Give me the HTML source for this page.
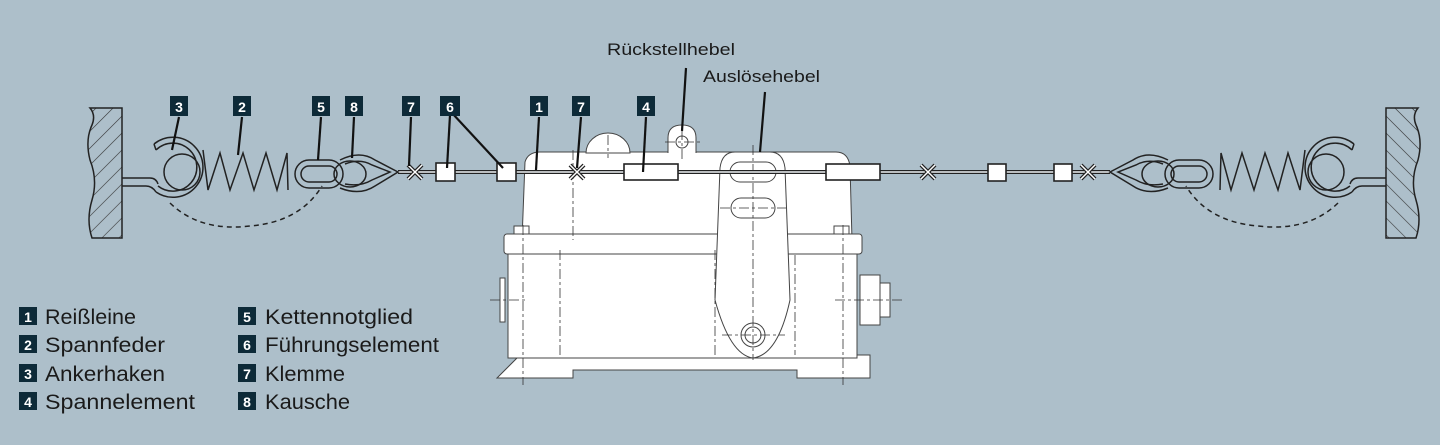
<!DOCTYPE html>
<html><head><meta charset="utf-8"><style>
html,body{margin:0;padding:0;background:#adbfca;}
svg{display:block}
.t{font-family:"Liberation Sans",sans-serif;fill:#1a1a1a}
.n{font-family:"Liberation Sans",sans-serif;font-weight:bold;fill:#fff;font-size:14px;text-anchor:middle}
</style></head><body>
<svg width="1440" height="445" viewBox="0 0 1440 445" xmlns="http://www.w3.org/2000/svg">
<defs>
<pattern id="h" width="12" height="12" patternUnits="userSpaceOnUse" patternTransform="rotate(-45)">
<rect width="12" height="12" fill="#adbfca"/><line x1="0" y1="0" x2="12" y2="0" stroke="#333" stroke-width="1.2"/></pattern>
<g id="assy" fill="none" stroke="#222" stroke-width="1.5">
<path d="M122,108 L122,238 L92,238 Q86,220 92,200 Q98,180 90,160 Q85,140 92,125 Q96,115 90,108 Z" fill="url(#h)"/>
<path d="M122,178 L150,178 Q156,178 158,184 M122,186 L146,186 Q152,186 156,192"/>
<path d="M156,150 A24,24 0 1 1 158,186 M154,144 A30,30 0 1 1 156,192 M154,144 L156,150"/>
<circle cx="182" cy="172" r="18"/>
<path d="M203,150 L208,190 L220,153 L230,190 L243,153 L254,190 L266,153 L277,190 L287,153 L288,190"/>
<rect x="295" y="160" width="48" height="28" rx="14"/>
<rect x="301" y="166" width="36" height="16" rx="8"/>
<ellipse cx="350" cy="174" rx="16" ry="13"/>
<path d="M340,160 Q360,150 375,160 L398,172 L375,186 Q360,196 340,188"/>
<path d="M345,164 Q360,158 372,165 L390,172 L372,180 Q360,187 345,184"/>
<path d="M170,203 Q200,232 250,226 Q300,222 322,186" stroke-dasharray="5,4"/>
</g>
</defs>
<rect width="1440" height="445" fill="#adbfca"/>

<!-- switch box -->
<g fill="#fff" stroke="#444" stroke-width="1">
<path d="M520,355 L870,355 L870,378 L797,378 L797,370 L573,370 L573,378 L497,378 Z"/>
<path d="M508,240 L857,240 L857,358 L508,358 Z"/>
<path d="M525,162 Q528,152 540,152 L836,152 Q848,152 850,166 L852,240 L522,240 Z"/>
<rect x="504" y="234" width="358" height="20" rx="3"/>
<path d="M586,153 A22,20 0 0 1 630,153 Z"/>
<path d="M668,153 L668,138 Q668,125 682,125 Q696,125 696,138 L696,153"/>
<circle cx="682" cy="142" r="6"/>
<path d="M735,152 Q722,152 720,168 L715,300 Q730,355 753,358 Q778,355 790,300 L785,168 Q783,152 770,152 Z"/>
<rect x="730" y="162" width="46" height="20" rx="10"/>
<rect x="731" y="198" width="44" height="20" rx="10"/>
<circle cx="753" cy="335" r="12"/><circle cx="753" cy="335" r="8"/>
<rect x="860" y="275" width="20" height="50"/><rect x="880" y="283" width="10" height="34"/>
<path d="M500,278 L505,278 L505,322 L500,322 Z"/>
<rect x="514" y="226" width="15" height="8"/><rect x="834" y="226" width="15" height="8"/>
</g>
<g stroke="#333" stroke-width="0.8" stroke-dasharray="10,3,3,3" fill="none">
<line x1="753" y1="145" x2="753" y2="360"/><line x1="720" y1="172" x2="786" y2="172"/><line x1="720" y1="208" x2="786" y2="208"/>
<line x1="722" y1="335" x2="785" y2="335"/><line x1="608" y1="135" x2="608" y2="158"/>
<line x1="682" y1="130" x2="682" y2="160"/><line x1="665" y1="142" x2="700" y2="142"/>
<line x1="490" y1="300" x2="525" y2="300"/><line x1="835" y1="300" x2="905" y2="300"/>
<line x1="523" y1="225" x2="523" y2="385"/><line x1="843" y1="225" x2="843" y2="385"/>
<line x1="573" y1="150" x2="573" y2="240"/><line x1="795" y1="255" x2="795" y2="355"/>
<line x1="560" y1="250" x2="560" y2="355"/><line x1="715" y1="250" x2="715" y2="355"/>
</g>

<!-- cable -->
<line x1="398" y1="172" x2="1110" y2="172" stroke="#222" stroke-width="4"/>
<line x1="398" y1="172" x2="1110" y2="172" stroke="#eef2f4" stroke-width="1.5"/>

<use href="#assy"/>
<use href="#assy" transform="translate(1508,0) scale(-1,1)"/>

<g fill="#fff" stroke="#222" stroke-width="1.6">
<rect x="436" y="163" width="19" height="18"/><rect x="497" y="163" width="19" height="18"/>
<rect x="624" y="164" width="54" height="16"/><rect x="826" y="164" width="54" height="16"/>
<rect x="988" y="164" width="18" height="17"/><rect x="1054" y="164" width="18" height="17"/>
</g>
<g stroke="#222" stroke-width="4"><path d="M408,165 L422,179 M422,165 L408,179 M570,165 L584,179 M584,165 L570,179 M921,165 L935,179 M935,165 L921,179 M1081,165 L1095,179 M1095,165 L1081,179"/></g>
<g stroke="#fff" stroke-width="1.5"><path d="M408,165 L422,179 M422,165 L408,179 M570,165 L584,179 M584,165 L570,179 M921,165 L935,179 M935,165 L921,179 M1081,165 L1095,179 M1095,165 L1081,179"/></g>

<!-- leaders -->
<g stroke="#111" stroke-width="2.2">
<line x1="179" y1="117" x2="172" y2="150"/><line x1="242" y1="117" x2="238" y2="155"/>
<line x1="321" y1="117" x2="318" y2="160"/><line x1="354" y1="117" x2="352" y2="158"/>
<line x1="411" y1="117" x2="409" y2="166"/><line x1="450" y1="115" x2="447" y2="168"/>
<line x1="452" y1="113" x2="503" y2="168"/><line x1="539" y1="117" x2="536" y2="170"/>
<line x1="581" y1="117" x2="577" y2="168"/><line x1="646" y1="117" x2="643" y2="172"/>
<line x1="686" y1="68" x2="682" y2="131"/><line x1="765" y1="92" x2="760" y2="152"/>
</g>
<g fill="#0d2a38">
<rect x="170" y="96" width="18" height="20"/><rect x="233" y="96" width="18" height="20"/>
<rect x="312" y="96" width="18" height="20"/><rect x="345" y="96" width="18" height="20"/>
<rect x="402" y="96" width="18" height="20"/><rect x="440" y="96" width="20" height="20"/>
<rect x="530" y="96" width="18" height="20"/><rect x="572" y="96" width="18" height="20"/>
<rect x="637" y="96" width="18" height="20"/>
</g>
<text class="n" x="179" y="112">3</text><text class="n" x="242" y="112">2</text><text class="n" x="321" y="112">5</text>
<text class="n" x="354" y="112">8</text><text class="n" x="411" y="112">7</text><text class="n" x="450" y="112">6</text>
<text class="n" x="539" y="112">1</text><text class="n" x="581" y="112">7</text><text class="n" x="646" y="112">4</text>
<text class="t" x="607" y="55" font-size="17" textLength="128" lengthAdjust="spacingAndGlyphs">Rückstellhebel</text>
<text class="t" x="703" y="82" font-size="17" textLength="117" lengthAdjust="spacingAndGlyphs">Auslösehebel</text>

<!-- legend -->
<g fill="#0d2a38">
<rect x="19" y="307" width="18" height="18"/><rect x="19" y="335" width="18" height="18"/>
<rect x="19" y="364" width="18" height="18"/><rect x="19" y="392" width="18" height="18"/>
<rect x="238" y="307" width="18" height="18"/><rect x="238" y="335" width="18" height="18"/>
<rect x="238" y="364" width="18" height="18"/><rect x="238" y="392" width="18" height="18"/>
</g>
<g class="n"><text x="28" y="322">1</text><text x="28" y="350">2</text><text x="28" y="379">3</text><text x="28" y="407">4</text>
<text x="247" y="322">5</text><text x="247" y="350">6</text><text x="247" y="379">7</text><text x="247" y="407">8</text></g>
<g class="t" font-size="21">
<text x="45" y="324" textLength="91" lengthAdjust="spacingAndGlyphs">Reißleine</text>
<text x="45" y="352" textLength="120" lengthAdjust="spacingAndGlyphs">Spannfeder</text>
<text x="45" y="381" textLength="120" lengthAdjust="spacingAndGlyphs">Ankerhaken</text>
<text x="45" y="409" textLength="150" lengthAdjust="spacingAndGlyphs">Spannelement</text>
<text x="265" y="324" textLength="148" lengthAdjust="spacingAndGlyphs">Kettennotglied</text>
<text x="265" y="352" textLength="174" lengthAdjust="spacingAndGlyphs">Führungselement</text>
<text x="265" y="381" textLength="80" lengthAdjust="spacingAndGlyphs">Klemme</text>
<text x="265" y="409" textLength="85" lengthAdjust="spacingAndGlyphs">Kausche</text>
</g>
</svg>
</body></html>
